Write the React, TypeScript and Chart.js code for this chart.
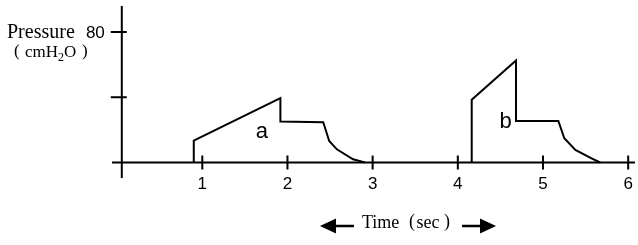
import React, { useEffect, useRef } from "react";
import { Chart, registerables } from "chart.js";

Chart.register(...registerables);

// Data
const timeTicks = [1, 2, 3, 4, 5, 6];
const pressureTicks = [40, 80];
const pressureTickLabels = ["", "80"];

const breathA_time = [0.9, 0.9, 1.917, 1.917, 2.42, 2.49, 2.58, 2.77, 2.91];
const breathA_pressure = [0, 13.4, 39.5, 25.1, 24.7, 13.2, 8.1, 2, 0];
const breathB_time = [4.163, 4.163, 4.683, 4.683, 5.18, 5.25, 5.38, 5.57, 5.67];
const breathB_pressure = [0, 38.5, 62.6, 25.5, 25.5, 14.9, 7.7, 2.6, 0];

const breathLabels = ["a", "b"];
const breathLabelPos = [
  { x: 1.70, y: 18.5 },
  { x: 4.56, y: 25 },
];

const yAxisAt = 0.055;
const xMin = -0.06;
const xMax = 6.08;
const yMin = -9.5;
const yMax = 96;

const toPoints = (t: number[], p: number[]) => t.map((v, i) => ({ x: v, y: p[i] }));

const SERIF = "'Liberation Serif', 'Times New Roman', serif";
const SANS = "'Liberation Sans', Arial, sans-serif";

const axesPlugin = {
  id: "customAxes",
  beforeDatasetsDraw(chart: any) {
    const ctx = chart.ctx;
    const xs = chart.scales.x;
    const ys = chart.scales.y;
    const x0 = xs.getPixelForValue(yAxisAt);
    const y0 = ys.getPixelForValue(0);
    ctx.save();
    ctx.strokeStyle = "#000";
    ctx.fillStyle = "#000";
    ctx.lineWidth = 2;
    ctx.beginPath();
    ctx.moveTo(xs.left, y0);
    ctx.lineTo(xs.right, y0);
    ctx.moveTo(x0, ys.top);
    ctx.lineTo(x0, ys.bottom);
    timeTicks.forEach((t) => {
      const px = xs.getPixelForValue(t);
      ctx.moveTo(px, y0 - 7);
      ctx.lineTo(px, y0 + 7);
    });
    pressureTicks.forEach((p) => {
      const py = ys.getPixelForValue(p);
      ctx.moveTo(x0 - 11, py);
      ctx.lineTo(x0 + 5, py);
    });
    ctx.stroke();

    ctx.font = "17px " + SANS;
    ctx.textAlign = "center";
    ctx.textBaseline = "middle";
    timeTicks.forEach((t) => {
      ctx.fillText(String(t), xs.getPixelForValue(t), y0 + 22);
    });
    ctx.textAlign = "right";
    pressureTicks.forEach((p, i) => {
      ctx.fillText(pressureTickLabels[i], x0 - 17, ys.getPixelForValue(p) + 1);
    });

    ctx.font = "22px " + SANS;
    ctx.textAlign = "center";
    breathLabels.forEach((l, i) => {
      ctx.fillText(l, xs.getPixelForValue(breathLabelPos[i].x), ys.getPixelForValue(breathLabelPos[i].y));
    });

    // y title
    ctx.textAlign = "left";
    ctx.textBaseline = "alphabetic";
    ctx.font = "20px " + SERIF;
    ctx.fillText("Pressure", 7, 38);
    ctx.font = "17px " + SERIF;
    ctx.fillText("(", 14, 56);
    ctx.fillText("cmH", 25, 57);
    let cx = 25 + ctx.measureText("cmH").width;
    ctx.font = "12px " + SERIF;
    ctx.fillText("2", cx, 61);
    cx += ctx.measureText("2").width;
    ctx.font = "17px " + SERIF;
    ctx.fillText("O", cx, 57);
    ctx.fillText(")", 82, 56);

    // x title with arrows
    ctx.font = "18px " + SERIF;
    ctx.fillText("Time", 362, 228);
    ctx.fillText("(", 409, 227);
    ctx.fillText("sec", 416.5, 228);
    ctx.fillText(")", 444, 227);
    const ay = 226;
    ctx.lineWidth = 2.5;
    ctx.beginPath();
    ctx.moveTo(332, ay);
    ctx.lineTo(354, ay);
    ctx.moveTo(462, ay);
    ctx.lineTo(483, ay);
    ctx.stroke();
    ctx.beginPath();
    ctx.moveTo(320, ay);
    ctx.lineTo(336, ay - 7.5);
    ctx.lineTo(336, ay + 7.5);
    ctx.closePath();
    ctx.fill();
    ctx.beginPath();
    ctx.moveTo(496, ay);
    ctx.lineTo(480, ay - 7.5);
    ctx.lineTo(480, ay + 7.5);
    ctx.closePath();
    ctx.fill();
    ctx.restore();
  },
};

export default function App() {
  const ref = useRef<HTMLCanvasElement | null>(null);
  useEffect(() => {
    document.body.style.margin = "0";
    document.body.style.background = "#fff";
    if (!ref.current) return;
    const chart = new Chart(ref.current, {
      type: "line",
      data: {
        datasets: [
          {
            data: toPoints(breathA_time, breathA_pressure),
            borderColor: "#000",
            borderWidth: 2,
            pointRadius: 0,
            tension: 0,
            fill: false,
          },
          {
            data: toPoints(breathB_time, breathB_pressure),
            borderColor: "#000",
            borderWidth: 2,
            pointRadius: 0,
            tension: 0,
            fill: false,
          },
        ],
      },
      options: {
        animation: false,
        responsive: false,
        layout: { padding: { left: 112, right: 3, top: 6, bottom: 67 } },
        plugins: { legend: { display: false }, tooltip: { enabled: false } },
        scales: {
          x: { type: "linear", min: xMin, max: xMax, display: false },
          y: { type: "linear", min: yMin, max: yMax, display: false },
        },
      },
      plugins: [axesPlugin],
    } as any);
    return () => chart.destroy();
  }, []);
  return (
    <div style={{ background: "#fff" }}>
      <canvas ref={ref} width={638} height={245} style={{ display: "block" }} />
    </div>
  );
}
